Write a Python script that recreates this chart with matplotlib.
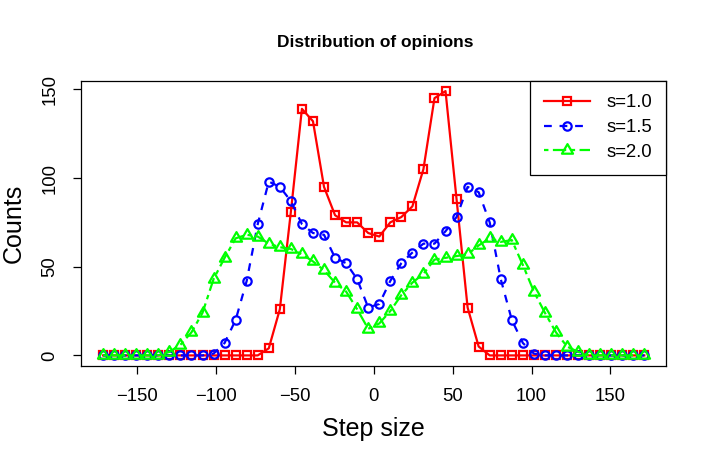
import matplotlib
matplotlib.use("Agg")
import matplotlib.pyplot as plt
from matplotlib.path import Path

plt.rcParams['font.family'] = ['Liberation Sans', 'DejaVu Sans']

# bin centres of the step-size histogram
step = [-171.5, -164.5, -157.5, -150.5, -143.5, -136.5, -129.5, -122.5, -115.5, -108.5,
        -101.5, -94.5, -87.5, -80.5, -73.5, -66.5, -59.5, -52.5, -45.5, -38.5,
        -31.5, -24.5, -17.5, -10.5, -3.5, 3.5, 10.5, 17.5, 24.5, 31.5,
        38.5, 45.5, 52.5, 59.5, 66.5, 73.5, 80.5, 87.5, 94.5, 101.5,
        108.5, 115.5, 122.5, 129.5, 136.5, 143.5, 150.5, 157.5, 164.5, 171.5]

counts_s10 = [0] * 15 + [4, 26, 81, 139, 132, 95, 79, 75, 75, 69,
                         67, 75, 78, 84, 105, 145, 149, 88, 27, 5] + [0] * 15
counts_s15 = [0] * 10 + [1, 7, 20, 42, 74, 98, 95, 87, 74, 69,
                         68, 55, 52, 43, 27, 29, 42, 52, 58, 63,
                         63, 70, 78, 95, 92, 75, 43, 20, 7, 1] + [0] * 10
counts_s20 = [0] * 6 + [2, 6, 13, 24, 43, 55, 66, 68, 67, 63,
                        61, 60, 57, 53, 48, 41, 36, 26, 15, 18,
                        25, 34, 41, 46, 54, 55, 56, 57, 62, 66,
                        64, 65, 51, 36, 24, 13, 5, 2] + [0] * 6

labels = ["s=1.0", "s=1.5", "s=2.0"]

# R-style triangle: centroid on the data point
tri = Path([(0, 1), (-0.866, -0.5), (0.866, -0.5), (0, 1)],
           [Path.MOVETO, Path.LINETO, Path.LINETO, Path.CLOSEPOLY])

fig = plt.figure(figsize=(7.06, 4.67), dpi=100)
ax = fig.add_axes([0.1154, 0.2163, 0.8279, 0.6113])

ax.plot(step, counts_s10, color='#FF0000', lw=1.6, ls='-', marker='s', ms=6.0,
        mfc='none', mec='#FF0000', mew=1.6, label=labels[0])
ax.plot(step, counts_s15, color='#0000FF', lw=1.6, ls=(0, (3.5, 3.5)), marker='o', ms=6.0,
        mfc='none', mec='#0000FF', mew=1.6, label=labels[1])
ax.plot(step, counts_s20, color='#00FF00', lw=1.6, ls=(0, (2, 2, 6, 2)), marker=tri, ms=9.2,
        mfc='none', mec='#00FF00', mew=1.6, label=labels[2])

ax.set_xlim(-185.2, 185.2)
ax.set_ylim(-5.96, 154.96)
ax.set_xticks([-150, -100, -50, 0, 50, 100, 150])
ax.set_xticklabels(['\u2212150', '\u2212100', '\u221250', '0', '50', '100', '150'])
ax.set_yticks([0, 50, 100, 150])
ax.tick_params(direction='out', length=5.8, width=0.9, labelsize=13.3)
ax.tick_params(axis='x', pad=10)
ax.tick_params(axis='y', labelrotation=90, pad=11)
for t in ax.get_yticklabels():
    t.set_va('center')
for sp in ax.spines.values():
    sp.set_linewidth(0.9)

ax.set_xlabel('Step size', fontsize=18, labelpad=9)
ax.set_ylabel('Counts', fontsize=18, labelpad=11)
fig.text(0.531, 1 - 42 / 467, 'Distribution of opinions', ha='center', va='center',
         fontsize=12.5, fontweight='bold')

leg = ax.legend(loc='upper right', bbox_to_anchor=(1.0, 1.0), borderaxespad=0,
                fancybox=False, framealpha=1, edgecolor='black', fontsize=13.3,
                handlelength=2.5, handletextpad=0.9, borderpad=0.75, labelspacing=0.42,
                numpoints=1)
leg.get_frame().set_linewidth(0.9)

fig.savefig('out.png', dpi=100)
